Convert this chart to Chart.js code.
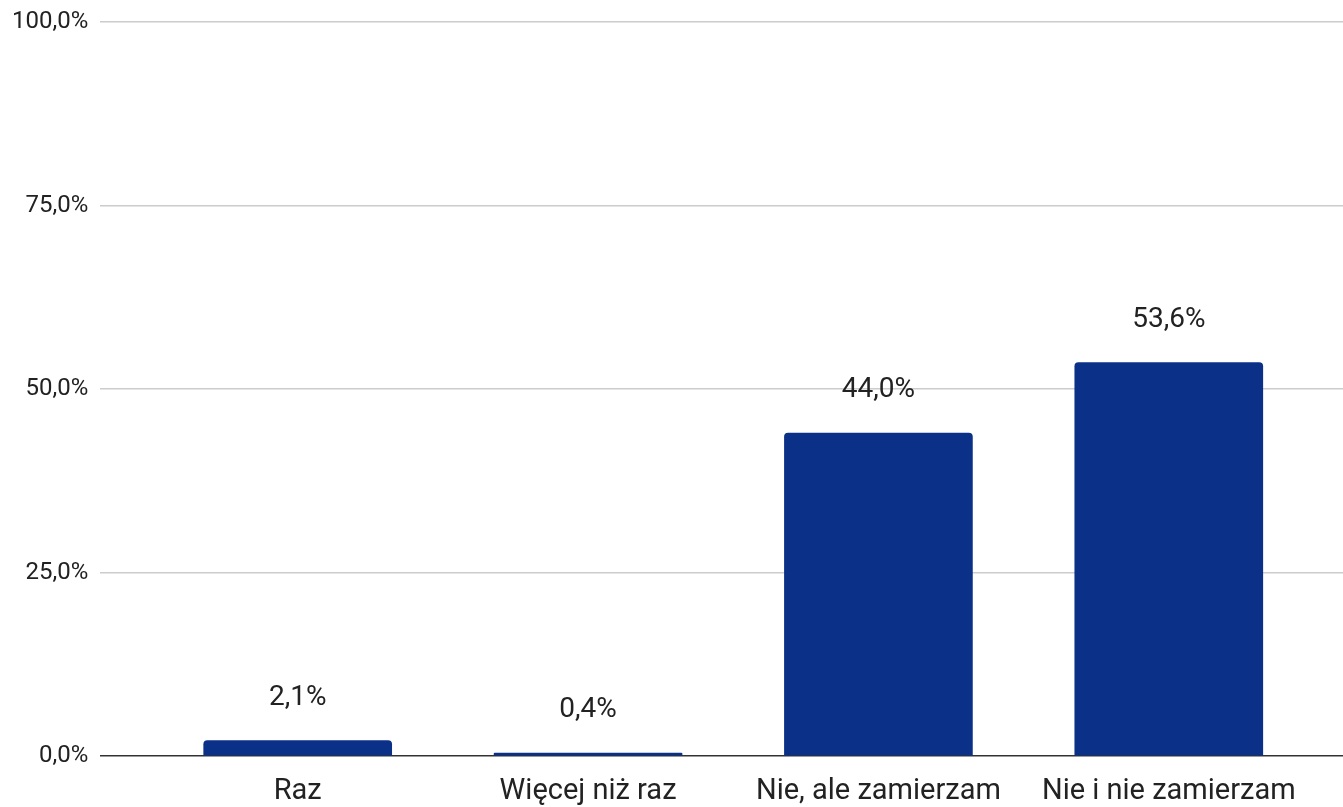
<!DOCTYPE html>
<html>
<head>
<meta charset="utf-8">
<script src="https://cdn.jsdelivr.net/npm/chart.js@4/dist/chart.umd.min.js"></script>
<style>
  html, body { margin: 0; padding: 0; background: #fff; }
  #wrap { width: 1343px; height: 807px; }
</style>
</head>
<body>
<div id="wrap"><canvas id="chart"></canvas></div>
<script>
// Chart data
const categories = ['Raz', 'Więcej niż raz', 'Nie, ale zamierzam', 'Nie i nie zamierzam'];
const values = [2.1, 0.4, 44.0, 53.6];
const yTicks = [0, 25, 50, 75, 100];

function pct(v) {
    return v.toFixed(1).replace('.', ',') + '%';
}

// Draw value labels above each bar
const valueLabels = {
    id: 'valueLabels',
    afterDatasetsDraw(chart) {
        const ctx = chart.ctx;
        const meta = chart.getDatasetMeta(0);
        ctx.save();
        ctx.font = '28px Roboto';
        ctx.fillStyle = '#222';
        ctx.textAlign = 'center';
        ctx.textBaseline = 'middle';
        meta.data.forEach(function(bar, i) {
            ctx.fillText(pct(values[i]), bar.x, bar.y - 43);
        });
        ctx.restore();
    }
};

new Chart(document.getElementById('chart'), {
    type: 'bar',
    data: {
        datasets: [{
            data: values.map(function(v, i) { return { x: i, y: v }; }),
            backgroundColor: '#0b3088',
            borderRadius: { topLeft: 4, topRight: 4 },
            borderSkipped: 'bottom',
            barThickness: 188
        }]
    },
    options: {
        responsive: true,
        maintainAspectRatio: false,
        animation: false,
        layout: { padding: { top: 22, right: 0, left: 0, bottom: 0 } },
        plugins: {
            legend: { display: false },
            tooltip: { enabled: false }
        },
        scales: {
            x: {
                type: 'linear',
                offset: false,
                min: -0.68,
                max: 3.6,
                afterBuildTicks: function(axis) {
                    axis.ticks = categories.map(function(c, i) { return { value: i }; });
                },
                afterFit: function(axis) {
                    axis.height = 51;
                },
                ticks: {
                    callback: function(v) { return categories[v]; },
                    font: { family: 'Roboto', size: 29 },
                    color: '#222',
                    padding: 18,
                    maxRotation: 0,
                    autoSkip: false
                },
                grid: { display: false, drawTicks: false, tickLength: 0 },
                border: { display: false }
            },
            y: {
                min: 0,
                max: 100,
                afterBuildTicks: function(axis) {
                    axis.ticks = yTicks.map(function(v) { return { value: v }; });
                },
                afterFit: function(axis) {
                    axis.paddingTop = 0;
                },
                ticks: {
                    callback: function(v) { return pct(v); },
                    font: { family: 'Roboto', size: 24 },
                    color: '#222',
                    padding: 12
                },
                grid: {
                    color: function(c) { return c.tick.value === 0 ? '#333' : '#cccccc'; },
                    lineWidth: 1.5,
                    drawTicks: false,
                    tickLength: 0
                },
                border: { display: false }
            }
        }
    },
    plugins: [valueLabels]
});
</script>
</body>
</html>
